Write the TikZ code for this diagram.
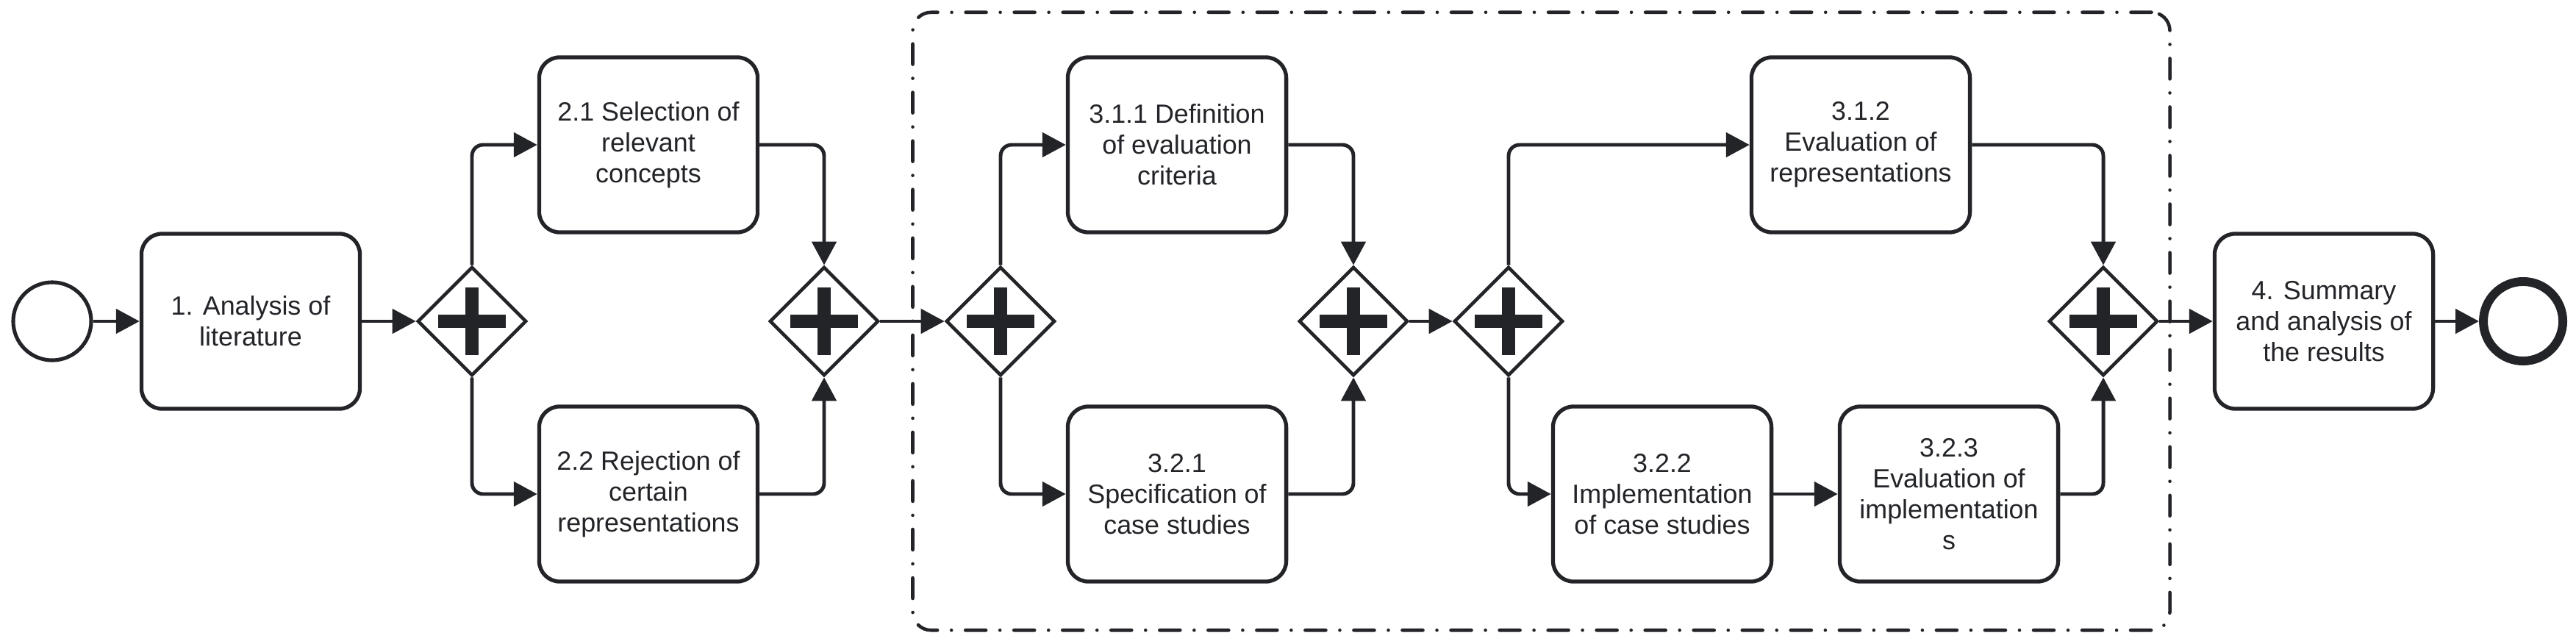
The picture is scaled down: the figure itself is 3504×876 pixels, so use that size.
\documentclass[tikz,border=0pt]{standalone}
\usepackage{fontspec}
\setmainfont{Liberation Sans}
\usetikzlibrary{arrows.meta,shapes.geometric}
\definecolor{ink}{RGB}{34,36,40}
\begin{document}
\begin{tikzpicture}[x=0.01cm,y=-0.01cm,
  task/.style={draw=ink, line width=1.5pt, rounded corners=0.28cm,
    minimum width=2.97cm, minimum height=2.38cm, inner sep=0pt,
    align=center, text=ink, font=\fontsize{10.2}{11.95}\selectfont},
  gw/.style={diamond, draw=ink, line width=1.3pt, aspect=1,
    minimum width=1.48cm, minimum height=1.48cm, inner sep=0pt,
    path picture={
      \fill[ink] ([xshift=-0.46cm,yshift=-0.09cm]path picture bounding box.center)
        rectangle ([xshift=0.46cm,yshift=0.09cm]path picture bounding box.center);
      \fill[ink] ([xshift=-0.09cm,yshift=-0.46cm]path picture bounding box.center)
        rectangle ([xshift=0.09cm,yshift=0.46cm]path picture bounding box.center);
    }},
  startev/.style={circle, draw=ink, line width=1.45pt, minimum size=1.06cm, inner sep=0pt},
  endev/.style={circle, draw=ink, line width=3.4pt, minimum size=1.08cm, inner sep=0pt},
  grp/.style={draw=ink, line width=1.3pt, rounded corners=0.25cm, line cap=round,
    dash pattern=on 0.28cm off 0.19cm on 0cm off 0.19cm,
    minimum width=17.09cm, minimum height=8.40cm, inner sep=0pt},
  flow/.style={draw=ink, line width=1.4pt, rounded corners=0.15cm,
    -{Triangle[length=0.32cm,width=0.33cm]}}
]
\useasboundingbox (0,0) rectangle (3504,876);
\fill[white] (0,0) rectangle (3504,876);

\node[grp] (group) at (2096.5,437) {};

\node[startev] (start) at (71,437) {};
\node[task] (t1) at (341,437) {1. Analysis of\\literature};
\node[gw] (g1) at (642,437) {};
\node[task] (t21) at (882,197) {2.1 Selection of\\relevant\\concepts};
\node[task] (t22) at (882,672) {2.2 Rejection of\\certain\\representations};
\node[gw] (g2) at (1121,437) {};
\node[gw] (g3) at (1361,437) {};
\node[task] (t311) at (1601,197) {3.1.1 Definition\\of evaluation\\criteria};
\node[task] (t321) at (1601,672) {3.2.1\\Specification of\\case studies};
\node[gw] (g4) at (1841,437) {};
\node[gw] (g5) at (2052,437) {};
\node[task] (t312) at (2531,197) {3.1.2\\Evaluation of\\representations};
\node[task] (t322) at (2261,672) {3.2.2\\Implementation\\of case studies};
\node[task] (t323) at (2651,672) {3.2.3\\Evaluation of\\implementation\\s};
\node[gw] (g6) at (2861,437) {};
\node[task] (t4) at (3161,437) {4. Summary\\and analysis of\\the results};
\node[endev] (end) at (3432,437) {};

\draw[flow] (start) -- (t1);
\draw[flow] (t1) -- (g1);
\draw[flow] (g1.north) |- (t21.west);
\draw[flow] (g1.south) |- (t22.west);
\draw[flow] (t21.east) -| (g2.north);
\draw[flow] (t22.east) -| (g2.south);
\draw[flow] (g2) -- (g3);
\draw[flow] (g3.north) |- (t311.west);
\draw[flow] (g3.south) |- (t321.west);
\draw[flow] (t311.east) -| (g4.north);
\draw[flow] (t321.east) -| (g4.south);
\draw[flow] (g4) -- (g5);
\draw[flow] (g5.north) |- (t312.west);
\draw[flow] (g5.south) |- (t322.west);
\draw[flow] (t322) -- (t323);
\draw[flow] (t312.east) -| (g6.north);
\draw[flow] (t323.east) -| (g6.south);
\draw[flow] (g6) -- (t4);
\draw[flow] (t4) -- (end);
\end{tikzpicture}
\end{document}
